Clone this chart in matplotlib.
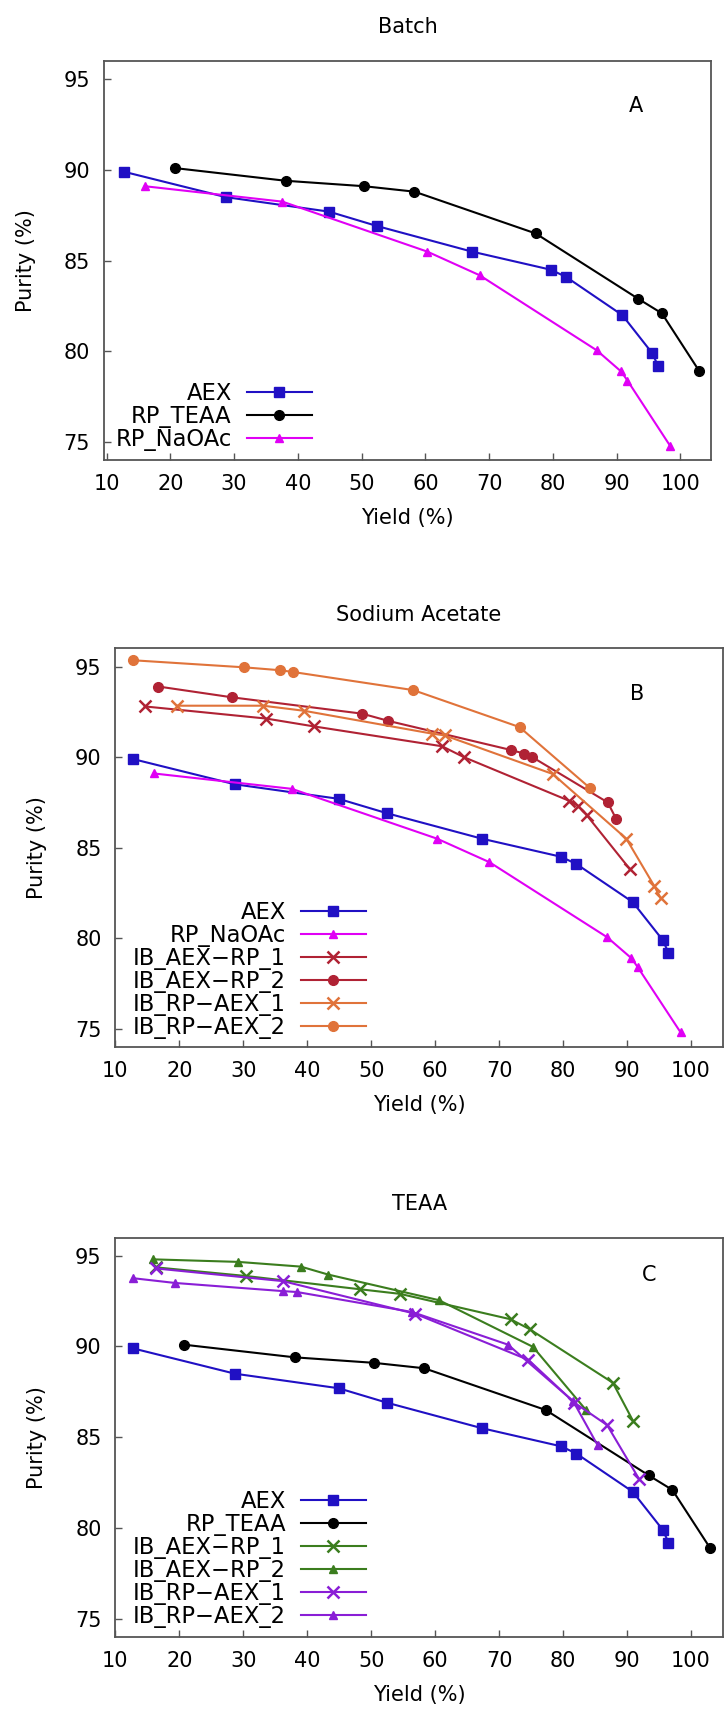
import matplotlib
matplotlib.use("Agg")
import matplotlib.pyplot as plt

plt.rcParams['font.family'] = ['DejaVu Sans']
plt.rcParams['font.size'] = 15

# --- data ---
aex_x = [12.7, 28.7, 44.9, 52.5, 67.3, 79.7, 82.1, 90.9, 95.6, 96.5]
aex_y = [89.9, 88.5, 87.7, 86.9, 85.5, 84.5, 84.1, 82.0, 79.9, 79.2]

teaa_x = [20.7, 38.1, 50.4, 58.3, 77.3, 93.4, 97.1, 103.0]
teaa_y = [90.1, 89.4, 89.1, 88.8, 86.5, 82.9, 82.1, 78.9]

naoac_x = [16.0, 37.6, 60.3, 68.5, 86.9, 90.7, 91.7, 98.4]
naoac_y = [89.1, 88.25, 85.5, 84.2, 80.06, 78.9, 78.4, 74.8]

# sodium acetate interleaved runs
na_aexrp1_x = [14.6, 33.6, 41.0, 61.1, 64.5, 80.9, 82.4, 83.7, 90.5]
na_aexrp1_y = [92.8, 92.13, 91.7, 90.6, 90.0, 87.6, 87.3, 86.8, 83.8]
na_aexrp2_x = [16.7, 28.3, 48.6, 52.7, 71.8, 73.9, 75.2, 87.0, 88.3]
na_aexrp2_y = [93.9, 93.3, 92.4, 92.0, 90.4, 90.2, 90.0, 87.5, 86.6]
na_rpaex1_x = [19.7, 33.1, 39.5, 59.5, 61.5, 78.4, 89.9, 94.25, 95.3]
na_rpaex1_y = [92.84, 92.84, 92.56, 91.3, 91.2, 89.07, 85.5, 82.9, 82.2]
na_rpaex2_x = [12.7, 30.1, 35.7, 37.8, 56.6, 73.2, 84.2]
na_rpaex2_y = [95.35, 94.96, 94.8, 94.7, 93.7, 91.66, 88.3]

# TEAA interleaved runs
te_aexrp1_x = [16.3, 30.5, 48.3, 54.5, 71.8, 74.8, 87.8, 91.0]
te_aexrp1_y = [94.36, 93.88, 93.15, 92.9, 91.5, 90.95, 88.0, 85.87]
te_aexrp2_x = [15.9, 29.2, 39.0, 43.3, 60.6, 75.3, 83.6]
te_aexrp2_y = [94.8, 94.66, 94.4, 93.96, 92.55, 89.98, 86.5]
te_rpaex1_x = [16.3, 36.2, 56.9, 74.6, 81.8, 86.9, 91.9]
te_rpaex1_y = [94.3, 93.6, 91.8, 89.26, 86.9, 85.67, 82.7]
te_rpaex2_x = [12.8, 19.3, 36.2, 38.4, 56.4, 71.4, 81.6, 85.4]
te_rpaex2_y = [93.76, 93.5, 93.05, 93.0, 91.9, 90.1, 86.98, 84.57]

y_ticks = [75, 80, 85, 90, 95]
x_ticks = [10, 20, 30, 40, 50, 60, 70, 80, 90, 100]

BLUE = '#2010c4'
BLACK = '#000000'
MAGENTA = '#e000f5'
DKRED = '#b02234'
ORANGE = '#e0733a'
GREEN = '#3b7d1e'
PURPLE = '#8a1ed6'

STY = {
    'sq': dict(marker='s', ms=7.5),
    'ci': dict(marker='o', ms=7),
    'tr': dict(marker='^', ms=6),
    'x': dict(marker='x', ms=8, mew=1.8),
}


def series(ax, x, y, color, kind, label):
    ax.plot(x, y, color=color, lw=1.5, label=label, **STY[kind])


def style(ax, xlim, title, letter, letter_xy, leg_anchor):
    ax.set_xlim(*xlim)
    ax.set_ylim(74, 96)
    ax.set_xticks(x_ticks)
    ax.set_yticks(y_ticks)
    ax.tick_params(direction='in', length=5, width=1, color='#555555',
                   labelsize=15, pad=10)
    for s in ax.spines.values():
        s.set_color('#555555')
        s.set_linewidth(1.3)
    ax.set_title(title, fontsize=15, pad=20)
    ax.set_xlabel('Yield (%)', fontsize=15)
    ax.set_ylabel('Purity (%)', fontsize=15)
    ax.xaxis.set_label_coords(0.5, -0.12)
    ax.yaxis.set_label_coords(-0.112, 0.5)
    ax.text(letter_xy[0], letter_xy[1], letter, fontsize=15,
            ha='center', va='center')
    ax.legend(loc='lower right', bbox_to_anchor=leg_anchor, frameon=False,
              markerfirst=False, handlelength=2.9, handletextpad=0.65,
              labelspacing=0.0, borderpad=0, borderaxespad=0, fontsize=16.3)


fig = plt.figure(figsize=(7.24, 17.11), dpi=100)

axA = fig.add_axes([0.1436, 0.7309, 0.8384, 0.2335])
series(axA, aex_x, aex_y, BLUE, 'sq', 'AEX')
series(axA, teaa_x, teaa_y, BLACK, 'ci', 'RP_TEAA')
series(axA, naoac_x, naoac_y, MAGENTA, 'tr', 'RP_NaOAc')
style(axA, (9.6, 104.8), 'Batch', 'A', (93.1, 93.5), (0.343, 0.024))

axB = fig.add_axes([0.1594, 0.3881, 0.839, 0.2329])
series(axB, aex_x, aex_y, BLUE, 'sq', 'AEX')
series(axB, naoac_x, naoac_y, MAGENTA, 'tr', 'RP_NaOAc')
series(axB, na_aexrp1_x, na_aexrp1_y, DKRED, 'x', 'IB_AEX\u2212RP_1')
series(axB, na_aexrp2_x, na_aexrp2_y, DKRED, 'ci', 'IB_AEX\u2212RP_2')
series(axB, na_rpaex1_x, na_rpaex1_y, ORANGE, 'x', 'IB_RP\u2212AEX_1')
series(axB, na_rpaex2_x, na_rpaex2_y, ORANGE, 'ci', 'IB_RP\u2212AEX_2')
style(axB, (10, 105), 'Sodium Acetate', 'B', (91.6, 93.5), (0.413, 0.019))

axC = fig.add_axes([0.1594, 0.0433, 0.839, 0.2334])
series(axC, aex_x, aex_y, BLUE, 'sq', 'AEX')
series(axC, teaa_x, teaa_y, BLACK, 'ci', 'RP_TEAA')
series(axC, te_aexrp1_x, te_aexrp1_y, GREEN, 'x', 'IB_AEX\u2212RP_1')
series(axC, te_aexrp2_x, te_aexrp2_y, GREEN, 'tr', 'IB_AEX\u2212RP_2')
series(axC, te_rpaex1_x, te_rpaex1_y, PURPLE, 'x', 'IB_RP\u2212AEX_1')
series(axC, te_rpaex2_x, te_rpaex2_y, PURPLE, 'tr', 'IB_RP\u2212AEX_2')
style(axC, (10, 105), 'TEAA', 'C', (93.5, 93.96), (0.413, 0.0225))

fig.savefig('out.png', dpi=100)
